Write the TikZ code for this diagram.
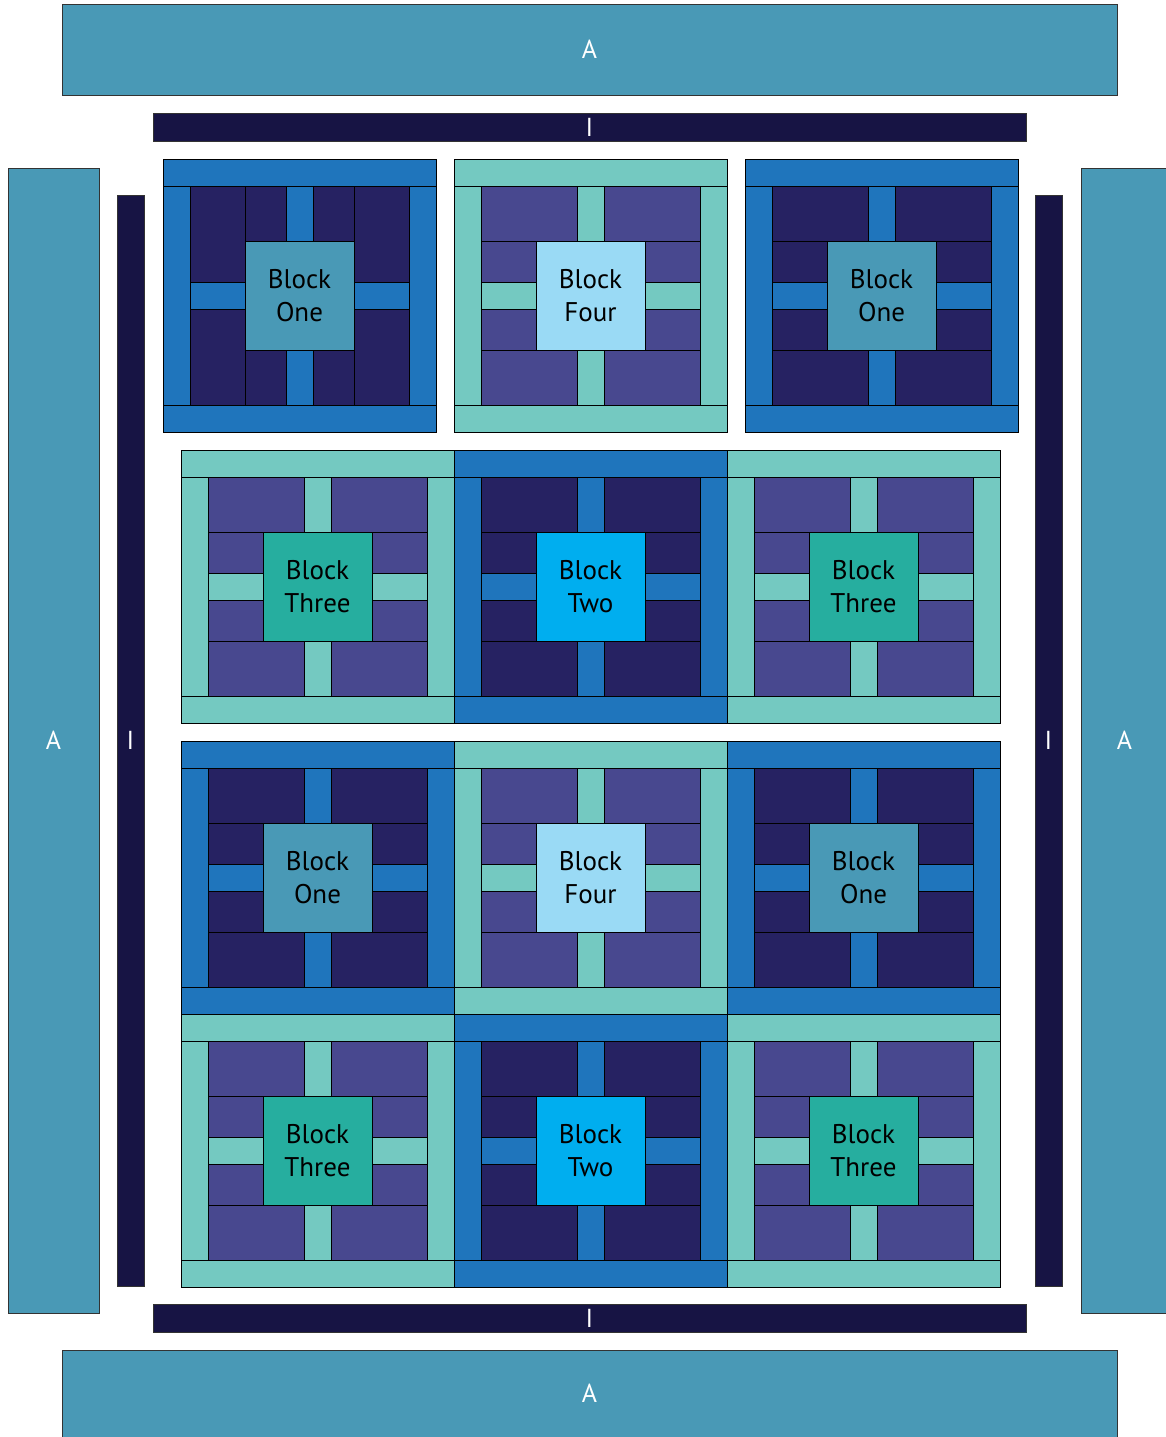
\documentclass[tikz,border=0pt]{standalone}
\usepackage{fontspec}
\setmainfont{PT Sans}
\usepackage{tikz}

\definecolor{steel}{HTML}{4999B6}
\definecolor{ink}{HTML}{171444}
\definecolor{royal}{HTML}{1F75BC}
\definecolor{navy}{HTML}{262262}
\definecolor{mint}{HTML}{74C9C1}
\definecolor{indigo}{HTML}{48488F}
\definecolor{sky}{HTML}{9ADAF5}
\definecolor{jade}{HTML}{26AE9F}
\definecolor{cyan}{HTML}{00AEEF}

% patches between the sashes, corners joined to the top and bottom rows
\newcommand{\widecut}[1]{%
  \draw[piece, fill=#1] (27,27) rectangle (123,82);
  \draw[piece, fill=#1] (150,27) rectangle (246,82);
  \draw[piece, fill=#1] (27,191) rectangle (123,246);
  \draw[piece, fill=#1] (150,191) rectangle (246,246);
  \draw[piece, fill=#1] (27,82) rectangle (82,123);
  \draw[piece, fill=#1] (27,150) rectangle (82,191);
  \draw[piece, fill=#1] (191,82) rectangle (246,123);
  \draw[piece, fill=#1] (191,150) rectangle (246,191);
}
% patches between the sashes, corners joined to the side columns
\newcommand{\tallcut}[1]{%
  \draw[piece, fill=#1] (27,27) rectangle (82,123);
  \draw[piece, fill=#1] (27,150) rectangle (82,246);
  \draw[piece, fill=#1] (191,27) rectangle (246,123);
  \draw[piece, fill=#1] (191,150) rectangle (246,246);
  \draw[piece, fill=#1] (82,27) rectangle (123,82);
  \draw[piece, fill=#1] (150,27) rectangle (191,82);
  \draw[piece, fill=#1] (82,191) rectangle (123,246);
  \draw[piece, fill=#1] (150,191) rectangle (191,246);
}
% #1 name, #2 x, #3 y, #4 frame, #5 patches, #6 centre, #7 label, #8 layout
\newcommand{\qblock}[8]{%
  \begin{scope}[shift={(#2,#3)}]
    \draw[piece, fill=#4] (0,0) rectangle (273,27);
    \draw[piece, fill=#4] (0,246) rectangle (273,273);
    \draw[piece, fill=#4] (0,27) rectangle (27,246);
    \draw[piece, fill=#4] (246,27) rectangle (273,246);
    \draw[piece, fill=#4] (123,27) rectangle (150,82);
    \draw[piece, fill=#4] (123,191) rectangle (150,246);
    \draw[piece, fill=#4] (27,123) rectangle (82,150);
    \draw[piece, fill=#4] (191,123) rectangle (246,150);
    #8{#5}
    \node[centre, fill=#6] (#1) at (136.5,136.5) {Block\\#7};
  \end{scope}
}

\begin{document}
\begin{tikzpicture}[
  x=1pt, y=-1pt,
  piece/.style={draw=black, line width=0.9pt},
  centre/.style={piece, minimum width=109pt, minimum height=109pt, inner sep=0pt,
    align=center, font=\fontsize{27}{33}\selectfont},
  band/.style={draw=black!80, line width=0.9pt, inner sep=0pt, text=white,
    font=\fontsize{26}{30}\selectfont},
  aband/.style={band, fill=steel},
  iband/.style={band, fill=ink}
]
\clip (0,0) rectangle (1166,1437);

% outer borders
\node[aband, minimum width=1055pt, minimum height=91pt] (atop) at (589.5,49.5) {A};
\node[aband, minimum width=1055pt, minimum height=87pt] (abot) at (589.5,1393.5) {A};
\node[aband, minimum width=91pt, minimum height=1145pt] (aleft) at (53.5,740.5) {A};
\node[aband, minimum width=87pt, minimum height=1145pt] (aright) at (1124.5,740.5) {A};

% inner borders
\node[iband, minimum width=873pt, minimum height=28pt] (itop) at (589.5,127) {I};
\node[iband, minimum width=873pt, minimum height=28pt] (ibot) at (589.5,1318) {I};
\node[iband, minimum width=27pt, minimum height=1091pt] (ileft) at (130.5,740.5) {I};
\node[iband, minimum width=27pt, minimum height=1091pt] (iright) at (1048.5,740.5) {I};

% row 1
\qblock{oneA}{163}{159}{royal}{navy}{steel}{One}{\tallcut}
\qblock{fourA}{454}{159}{mint}{indigo}{sky}{Four}{\widecut}
\qblock{oneB}{745}{159}{royal}{navy}{steel}{One}{\widecut}
% row 2
\qblock{threeA}{181}{450}{mint}{indigo}{jade}{Three}{\widecut}
\qblock{twoA}{454}{450}{royal}{navy}{cyan}{Two}{\widecut}
\qblock{threeB}{727}{450}{mint}{indigo}{jade}{Three}{\widecut}
% row 3
\qblock{oneC}{181}{741}{royal}{navy}{steel}{One}{\widecut}
\qblock{fourB}{454}{741}{mint}{indigo}{sky}{Four}{\widecut}
\qblock{oneD}{727}{741}{royal}{navy}{steel}{One}{\widecut}
% row 4
\qblock{threeC}{181}{1014}{mint}{indigo}{jade}{Three}{\widecut}
\qblock{twoB}{454}{1014}{royal}{navy}{cyan}{Two}{\widecut}
\qblock{threeD}{727}{1014}{mint}{indigo}{jade}{Three}{\widecut}
\end{tikzpicture}
\end{document}
